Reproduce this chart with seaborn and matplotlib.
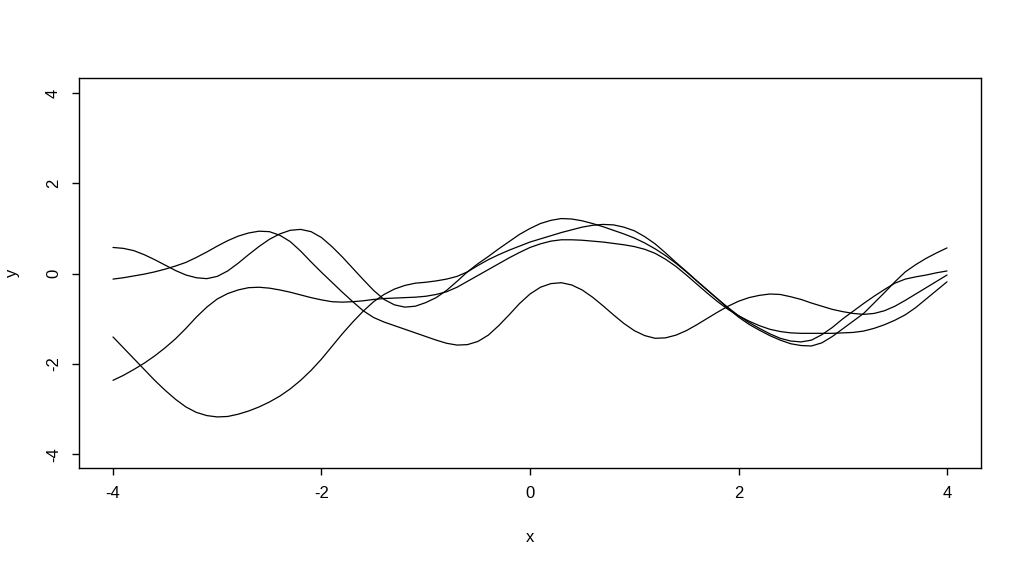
import numpy as np
import pandas as pd
import matplotlib
matplotlib.use("Agg")
import matplotlib.pyplot as plt
import seaborn as sns

X_VALUES = [-4.0, -3.9, -3.8, -3.7, -3.6, -3.5, -3.4, -3.3, -3.2, -3.1,
            -3.0, -2.9, -2.8, -2.7, -2.6, -2.5, -2.4, -2.3, -2.2, -2.1,
            -2.0, -1.9, -1.8, -1.7, -1.6, -1.5, -1.4, -1.3, -1.2, -1.1,
            -1.0, -0.9, -0.8, -0.7, -0.6, -0.5, -0.4, -0.3, -0.2, -0.1,
            0.0, 0.1, 0.2, 0.3, 0.4, 0.5, 0.6, 0.7, 0.8, 0.9,
            1.0, 1.1, 1.2, 1.3, 1.4, 1.5, 1.6, 1.7, 1.8, 1.9,
            2.0, 2.1, 2.2, 2.3, 2.4, 2.5, 2.6, 2.7, 2.8, 2.9,
            3.0, 3.1, 3.2, 3.3, 3.4, 3.5, 3.6, 3.7, 3.8, 3.9, 4.0]

CURVE_A = [0.58, 0.56, 0.51, 0.42, 0.31, 0.19, 0.07, -0.03, -0.09, -0.11,
           -0.06, 0.06, 0.23, 0.42, 0.60, 0.76, 0.88, 0.96, 0.98, 0.93,
           0.80, 0.60, 0.37, 0.12, -0.13, -0.37, -0.57, -0.69, -0.74, -0.72,
           -0.64, -0.53, -0.37, -0.17, 0.04, 0.22, 0.38, 0.55, 0.71, 0.87,
           1.00, 1.11, 1.18, 1.22, 1.21, 1.17, 1.11, 1.04, 0.96, 0.88,
           0.79, 0.68, 0.55, 0.40, 0.23, 0.04, -0.16, -0.36, -0.56, -0.77,
           -0.96, -1.12, -1.25, -1.37, -1.47, -1.55, -1.59, -1.60, -1.53, -1.39,
           -1.22, -1.05, -0.88, -0.65, -0.42, -0.18, 0.04, 0.20, 0.34, 0.46, 0.57]

CURVE_B = [-0.12, -0.09, -0.05, -0.01, 0.04, 0.10, 0.17, 0.25, 0.36, 0.48,
           0.61, 0.73, 0.83, 0.90, 0.94, 0.93, 0.85, 0.71, 0.50, 0.26,
           0.03, -0.19, -0.41, -0.62, -0.82, -0.97, -1.07, -1.15, -1.23, -1.31,
           -1.39, -1.47, -1.54, -1.58, -1.57, -1.50, -1.36, -1.15, -0.91, -0.66,
           -0.45, -0.30, -0.22, -0.20, -0.25, -0.36, -0.52, -0.71, -0.91, -1.10,
           -1.26, -1.37, -1.43, -1.42, -1.36, -1.26, -1.13, -0.99, -0.85, -0.72,
           -0.61, -0.53, -0.48, -0.45, -0.46, -0.51, -0.57, -0.65, -0.72, -0.79,
           -0.84, -0.88, -0.90, -0.88, -0.82, -0.72, -0.59, -0.45, -0.31, -0.17, -0.03]

CURVE_C = [-2.36, -2.25, -2.12, -1.98, -1.82, -1.64, -1.44, -1.21, -0.96, -0.74,
           -0.56, -0.44, -0.36, -0.31, -0.30, -0.32, -0.36, -0.41, -0.47, -0.53,
           -0.58, -0.62, -0.63, -0.62, -0.60, -0.57, -0.55, -0.54, -0.53, -0.52,
           -0.50, -0.46, -0.40, -0.30, -0.17, -0.04, 0.09, 0.22, 0.35, 0.47,
           0.58, 0.66, 0.72, 0.75, 0.75, 0.74, 0.72, 0.70, 0.67, 0.64,
           0.60, 0.54, 0.45, 0.32, 0.16, -0.03, -0.23, -0.43, -0.62, -0.79,
           -0.93, -1.05, -1.15, -1.23, -1.28, -1.31, -1.32, -1.32, -1.32, -1.32,
           -1.31, -1.30, -1.27, -1.21, -1.13, -1.03, -0.91, -0.75, -0.56, -0.37, -0.18]

CURVE_D = [-1.40, -1.64, -1.88, -2.12, -2.36, -2.58, -2.78, -2.95, -3.07, -3.14,
           -3.17, -3.16, -3.11, -3.04, -2.95, -2.84, -2.71, -2.55, -2.36, -2.14,
           -1.89, -1.61, -1.33, -1.07, -0.83, -0.62, -0.46, -0.34, -0.26, -0.21,
           -0.19, -0.16, -0.12, -0.06, 0.04, 0.18, 0.31, 0.42, 0.52, 0.61,
           0.70, 0.77, 0.84, 0.91, 0.97, 1.03, 1.07, 1.09, 1.08, 1.03,
           0.95, 0.82, 0.66, 0.46, 0.25, 0.05, -0.16, -0.36, -0.56, -0.75,
           -0.93, -1.08, -1.21, -1.33, -1.43, -1.49, -1.51, -1.47, -1.35, -1.19,
           -1.00, -0.83, -0.66, -0.50, -0.35, -0.21, -0.12, -0.07, -0.03, 0.02, 0.06]

X_TICKS = [-4, -2, 0, 2, 4]
Y_TICKS = [-4, -2, 0, 2, 4]

sns.set_theme(style="ticks")
plt.rcParams["font.family"] = ["Liberation Sans", "DejaVu Sans"]
plt.rcParams["axes.unicode_minus"] = False

frames = []
for name, vals in [("a", CURVE_A), ("b", CURVE_B), ("c", CURVE_C), ("d", CURVE_D)]:
    frames.append(pd.DataFrame({"x": X_VALUES, "y": vals, "curve": name}))
df = pd.concat(frames, ignore_index=True)

W, H = 1022, 567
fig = plt.figure(figsize=(W / 100, H / 100), dpi=100)
ax = fig.add_axes([79 / W, (H - 468) / H, 902 / W, 390 / H])

sns.lineplot(data=df, x="x", y="y", units="curve", estimator=None,
             color="black", linewidth=0.9, sort=False, ax=ax)

ax.set_xlim(-4.326, 4.326)
ax.set_ylim(-4.30, 4.33)
ax.set_xticks(X_TICKS)
ax.set_xticklabels([str(t) for t in X_TICKS])
ax.set_yticks(Y_TICKS)
ax.set_yticklabels([str(t) for t in Y_TICKS], rotation=90, va="center")

for sp in ax.spines.values():
    sp.set_color("black")
    sp.set_linewidth(1.0)
    sp.set_visible(True)

ax.tick_params(axis="both", direction="out", length=5, width=1.0,
               color="black", labelcolor="black", labelsize=12, pad=8)

ax.set_xlabel("x", fontsize=12, color="black", va="center")
ax.set_ylabel("y", fontsize=12, color="black", va="center")
ax.xaxis.set_label_coords(0.5, (468 - 538) / 390)
ax.yaxis.set_label_coords((13 - 79) / 902, 0.5)
ax.grid(False)

fig.savefig("out.png", dpi=100, facecolor="white")
plt.close(fig)
